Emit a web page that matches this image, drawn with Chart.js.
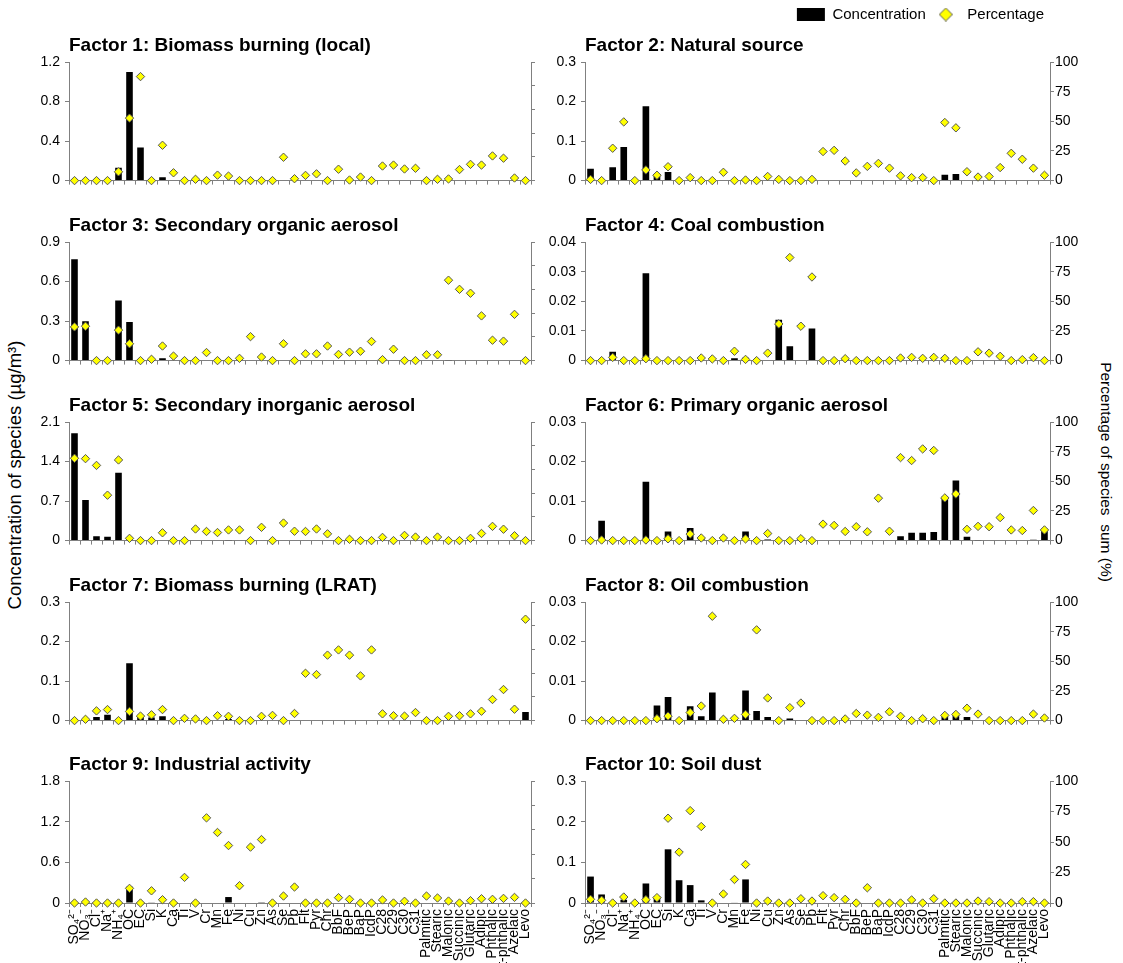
<!DOCTYPE html>
<html>
<head>
<meta charset="utf-8">
<script src="https://cdn.jsdelivr.net/npm/chart.js@4.4.1/dist/chart.umd.min.js"></script>
<style>
  body { margin: 0; background: #fff; width: 1123px; height: 963px; position: relative; overflow: hidden;
         font-family: "Liberation Sans", Arial, sans-serif; }
  .panel { position: absolute; }
  .ytitle { position: absolute; white-space: pre; color: #000; }
  #ttlLeft { font-size: 18.5px; left: 15px; top: 475px; transform: translate(-50%, -50%) rotate(-90deg); }
  #ttlRight { font-size: 15.5px; left: 1106px; top: 472px; transform: translate(-50%, -50%) rotate(90deg); }
</style>
</head>
<body>
<div class="ytitle" id="ttlLeft">Concentration of species (µg/m³)</div>
<div class="ytitle" id="ttlRight">Percentage of species  sum (%)</div>
<script>
const species = ["SO₄²⁻", "NO₃⁻", "Cl⁻", "Na⁺", "NH₄⁺", "OC", "EC", "Si", "K", "Ca",
  "Ti", "V", "Cr", "Mn", "Fe", "Ni", "Cu", "Zn", "As", "Se",
  "Pb", "Flt", "Pyr", "Chr", "BbF", "BeP", "BaP", "IcdP", "C28", "C29",
  "C30", "C31", "Palmitic", "Stearic", "Malonic", "Succinic", "Glutaric", "Adipic", "Phthalic", "t-phthalic",
  "Azelaic", "Levo"];

const factorNames = ["Factor 1: Biomass burning (local)", "Factor 2: Natural source",
  "Factor 3: Secondary organic aerosol", "Factor 4: Coal combustion",
  "Factor 5: Secondary inorganic aerosol", "Factor 6: Primary organic aerosol",
  "Factor 7: Biomass burning (LRAT)", "Factor 8: Oil combustion",
  "Factor 9: Industrial activity", "Factor 10: Soil dust"];

const concMax = [1.2, 0.3, 0.9, 0.04, 2.1, 0.03, 0.3, 0.03, 1.8, 0.3];
const concStep = [0.4, 0.1, 0.3, 0.01, 0.7, 0.01, 0.1, 0.01, 0.6, 0.1];

// concentration (ug/m3), one value per species
const conc1 = [0,0,0,0,0.13,1.1,0.335,0,0.035,0, 0,0,0,0,0,0,0,0,0,0, 0,0,0,0,0,0,0,0,0,0, 0,0,0,0,0,0,0,0,0,0, 0,0];
const conc2 = [0.03,0,0.034,0.085,0,0.188,0.017,0.022,0,0, 0,0,0,0,0,0,0,0,0,0, 0,0,0,0,0,0,0,0,0,0, 0,0,0.015,0.017,0,0,0,0,0,0, 0,0];
const conc3 = [0.77,0.298,0,0,0.457,0.293,0,0,0.017,0, 0,0,0,0,0,0,0,0,0,0, 0,0,0,0,0,0,0,0,0,0, 0,0,0,0,0.003,0,0,0,0,0, 0,0];
const conc4 = [0,0,0.003,0,0,0.0295,0,0,0,0, 0,0,0,0.0008,0.001,0,0.0002,0.0138,0.0048,0.0002, 0.0108,0,0,0,0,0,0,0,0,0, 0,0,0.0005,0,0,0,0,0,0,0, 0,0];
const conc5 = [1.9,0.72,0.075,0.07,1.2,0.01,0,0,0,0, 0,0,0,0,0.008,0,0,0,0,0, 0,0,0,0,0,0,0,0,0,0, 0,0,0,0,0,0,0,0,0,0, 0,0];
const conc6 = [0,0.005,0,0,0,0.0149,0,0.0023,0,0.0032, 0.0005,0,0,0,0.0023,0,0.0003,0,0,0, 0,0,0,0,0,0,0,0,0.0011,0.002, 0.002,0.0022,0.0111,0.0152,0.001,0.0001,0,0,0,0, 0.0002,0.003];
const conc7 = [0,0,0.009,0.015,0,0.145,0.01,0.008,0.011,0, 0,0,0,0,0.004,0,0,0,0,0, 0,0,0,0,0,0,0,0,0,0, 0,0,0,0,0,0,0,0,0,0, 0,0.022];
const conc8 = [0,0,0,0,0,0,0.0038,0.006,0,0.0036, 0.0011,0.0071,0,0,0.0076,0.0024,0.0009,0,0.0005,0, 0,0,0,0,0,0,0,0,0,0, 0,0,0.0011,0.0015,0.0009,0,0,0,0,0, 0,0];
const conc9 = [0,0,0,0,0,0.24,0,0.01,0,0, 0,0,0,0,0.088,0,0,0.012,0,0, 0,0,0,0,0,0,0,0,0,0, 0,0,0,0,0,0,0,0,0,0, 0,0];
const conc10 = [0.065,0.021,0,0.008,0,0.048,0.016,0.132,0.056,0.044, 0.0065,0,0,0.001,0.058,0,0,0,0,0, 0,0,0,0,0,0,0,0,0,0, 0,0,0,0,0,0,0,0,0,0, 0,0];

// percentage of species sum (%)
const pct1 = [0,0,0,0,7.4,52.7,87.7,0,29.8,6.6, 0,1.1,0,4.6,3.8,0,0,0,0,19.7, 1.6,4.4,5.7,0,9.6,0.5,3,0,12.3,13.1, 9.8,10.4,0,1.1,1.4,9.3,13.7,13.1,20.8,18.9, 2.2,0];
const pct2 = [1,0,27.3,49.5,0,9,4.5,11.7,0,2.5, 0,0,7,0,0.5,0,3.5,1,0,0, 1,24.5,25.5,16.5,6.5,12,14.5,10.5,4,2.5, 2.5,0,49,44.5,7.5,3,3.5,11,23,18, 10.5,4.5];
const pct3 = [28.4,29,0,0,25.7,14.2,0,1.1,12.3,3.8, 0,0,6.8,0,0,1.9,20.2,3,0,14.2, 0,5.7,5.7,12.3,5.2,7.1,7.9,16.1,0.8,9.6, 0,0,4.9,4.9,67.8,60.1,56.8,37.7,17.2,16.4, 39,0];
const pct4 = [0,0,2.7,0,0,1.6,0,0,0,0, 2.2,1.4,0,7.9,1,0,6.3,30.9,86.9,29, 70.5,0,0,1.6,0,0,0,0,2.2,2.7, 1.9,2.7,1.9,0,0,7.4,6.3,3.6,0,0.8, 2.5,0];
const pct5 = [69.4,69.1,63.4,38.3,68,1.9,0,0,6.6,0, 0,9.8,7.7,6.8,9,9,0,11.2,0,14.8, 7.9,7.7,9.8,5.7,0,1.1,0,0,2.7,0, 4.4,3,0,3,0,0,1.9,6,12,9.6, 4.1,0];
const pct6 = [0,0.5,0,0,0,0.5,0,1.5,0,5.5, 2.2,0,2.2,0,1.4,0,6,0,0,1.6, 0,13.9,12.8,7.7,11.7,7.4,35.8,7.9,70,67.5, 77.3,76,36,39.3,9.5,12,11.7,19.4,9,8.5, 25.4,9];
const pct7 = [0,1.1,8.2,9.3,0,7.7,3.8,4.9,9.3,0, 1.9,1.4,0,4.1,3.6,0,0,3.6,4.4,0, 6,39.9,38.8,55.2,59.6,55.2,37.7,59.6,5.7,4.1, 3.8,6.8,0,0,3.6,4.1,5.7,7.9,17.8,26.2, 9.6,85.5];
const pct8 = [0,0,0,0,0,0,1.6,3.8,0,6.8, 12.3,88,1.1,1.9,5.2,76.5,19.1,0,10.9,14.8, 0,0,0,1.4,6,4.6,2.7,7.4,3.6,0, 1.6,0,4.4,5.2,10.4,5.5,0,0,0,0, 5.5,2.2];
const pct9 = [0,0.8,0,0,0,12,0,10,2.7,0, 21,0,69.8,57.8,47.1,14.2,45.8,52,0,5.7, 13.1,0,0,0,4.4,3,0,0,2.5,0, 1.4,0,5.7,4.1,1.6,0,1.9,3.5,3,3.8, 4.6,0];
const pct10 = [3,2.2,0,4.9,0,2.7,4.4,69.5,41.7,75.7, 62.7,0,7.4,19.3,31.6,0,1.6,0,0,3.5, 1.6,6,4.4,3,0,12.5,0,0,0,2.5, 0,3.5,0,0,0,1.6,1.1,0,0,1.1, 1.1,0];

const concData = [conc1, conc2, conc3, conc4, conc5, conc6, conc7, conc8, conc9, conc10];
const pctData = [pct1, pct2, pct3, pct4, pct5, pct6, pct7, pct8, pct9, pct10];

const axisGray = "#808080";
const rowTop = [32, 212, 392, 572, 751];

Chart.defaults.font.family = '"Liberation Sans", Arial, sans-serif';
Chart.defaults.color = "#000";

// small diamond used as the legend symbol for the percentage series
const diamondIcon = document.createElement("canvas");
diamondIcon.width = 14;
diamondIcon.height = 14;
const g = diamondIcon.getContext("2d");
g.beginPath();
g.moveTo(7, 0.5); g.lineTo(13.5, 7); g.lineTo(7, 13.5); g.lineTo(0.5, 7);
g.closePath();
g.fillStyle = "#ffff00"; g.fill();
g.strokeStyle = "#555"; g.lineWidth = 1; g.stroke();

function makePanel(i) {
  const col = i % 2, row = Math.floor(i / 2);
  const bottom = row === 4;
  const withLegend = i === 1;
  const legendH = withLegend ? 31 : 0;
  const left = col === 0 ? 20 : 540;
  const width = col === 0 ? 525 : 583;
  const xH = bottom ? 60 : 10;
  const height = 30 + 122 + xH + legendH;

  const box = document.createElement("div");
  box.className = "panel";
  box.style.left = left + "px";
  box.style.top = (rowTop[row] - legendH) + "px";
  const cv = document.createElement("canvas");
  cv.width = width;
  cv.height = height;
  box.appendChild(cv);
  document.body.appendChild(box);

  new Chart(cv, {
    type: "bar",
    data: {
      labels: species,
      datasets: [
        {
          type: "bar",
          label: "Concentration",
          data: concData[i],
          yAxisID: "y",
          backgroundColor: "#000",
          barPercentage: 0.6,
          categoryPercentage: 1,
          pointStyle: "rect",
          order: 2,
        },
        {
          type: "line",
          label: "Percentage",
          data: pctData[i],
          yAxisID: "y1",
          showLine: false,
          pointStyle: "rectRot",
          pointRadius: 4.2,
          pointBackgroundColor: "#ffff00",
          pointBorderColor: "#555",
          pointBorderWidth: 1,
          backgroundColor: "#ffff00",
          borderColor: "#555",
          clip: false,
          order: 1,
        },
      ],
    },
    options: {
      responsive: false,
      animation: false,
      devicePixelRatio: 1,
      layout: { padding: 0 },
      plugins: {
        tooltip: { enabled: false },
        title: {
          display: true,
          text: factorNames[i],
          align: "start",
          fullSize: false,
          color: "#000",
          font: { size: 19, weight: "bold" },
          padding: { top: 2, bottom: 5.2 },
        },
        legend: {
          display: withLegend,
          position: "top",
          align: "end",
          fullSize: false,
          weight: 3000,
          labels: {
            usePointStyle: true,
            pointStyleWidth: 28,
            boxHeight: 13,
            padding: 6,
            color: "#000",
            font: { size: 15 },
            sort: (a, b) => a.datasetIndex - b.datasetIndex,
            generateLabels: (chart) => {
              const items = Chart.defaults.plugins.legend.labels.generateLabels(chart);
              items.forEach((it) => {
                if (it.text === "Percentage") it.pointStyle = diamondIcon;
              });
              return items;
            },
          },
        },
      },
      scales: {
        x: {
          offset: true,
          grid: { offset: true, drawOnChartArea: false, tickLength: 4, tickColor: axisGray },
          border: { color: axisGray },
          ticks: {
            display: bottom,
            autoSkip: false,
            minRotation: 90,
            maxRotation: 90,
            padding: 2,
            color: "#000",
            font: { size: 14 },
          },
          afterFit: (s) => { s.height = xH; },
        },
        y: {
          position: "left",
          min: 0,
          max: concMax[i],
          grid: { drawOnChartArea: false, tickLength: 4, tickColor: axisGray },
          border: { color: axisGray },
          ticks: { stepSize: concStep[i], padding: 5, color: "#000", font: { size: 14 } },
          afterFit: (s) => { s.width = col === 0 ? 49 : 45; },
        },
        y1: {
          position: "right",
          min: 0,
          max: 100,
          grid: { drawOnChartArea: false, tickLength: 4, tickColor: axisGray },
          border: { color: axisGray },
          ticks: {
            display: col === 1,
            stepSize: col === 1 ? 25 : 20,
            padding: 1,
            color: "#000",
            font: { size: 14 },
          },
          afterFit: (s) => { s.width = col === 0 ? 14 : 73; },
        },
      },
    },
  });
}

for (let i = 0; i < 10; i++) makePanel(i);
</script>
</body>
</html>
